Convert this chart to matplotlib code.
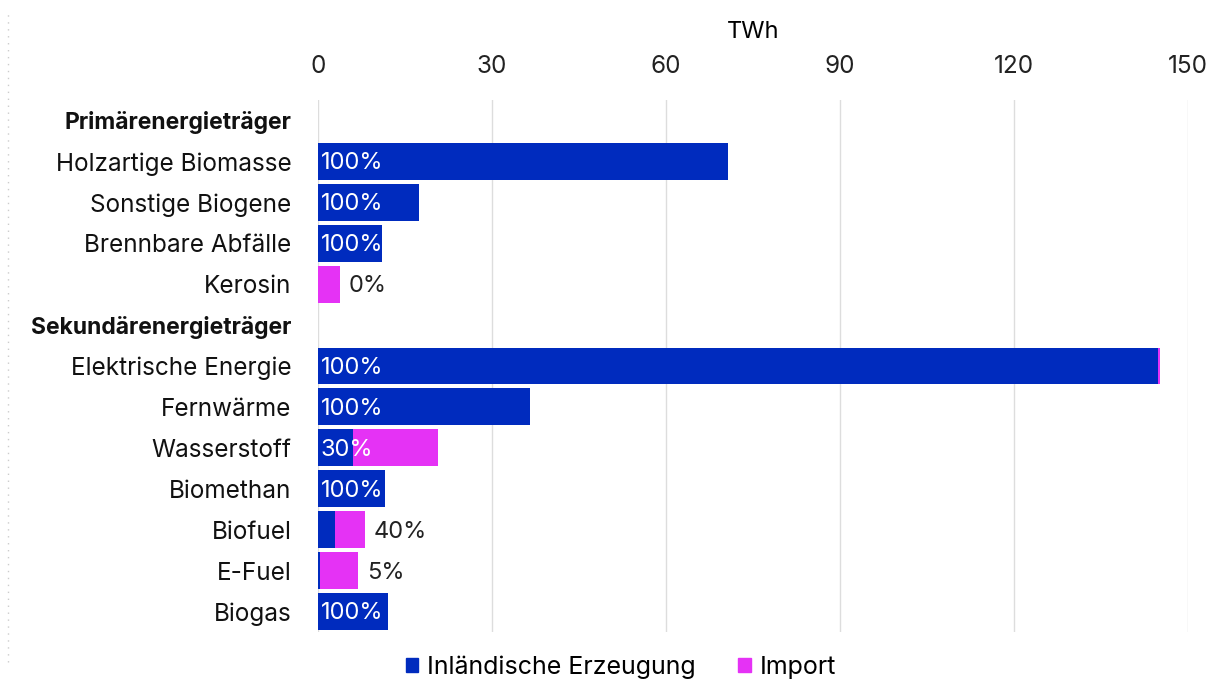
import matplotlib
matplotlib.use("Agg")
import matplotlib.pyplot as plt
from matplotlib.lines import Line2D
from matplotlib.patches import Patch
import numpy as np

plt.rcParams["font.family"] = ["Inter", "DejaVu Sans"]

# ── data (TWh) ────────────────────────────────────────────────────────────────
categories = [
    "Primärenergieträger",
    "Holzartige Biomasse",
    "Sonstige Biogene",
    "Brennbare Abfälle",
    "Kerosin",
    "Sekundärenergieträger",
    "Elektrische Energie",
    "Fernwärme",
    "Wasserstoff",
    "Biomethan",
    "Biofuel",
    "E-Fuel",
    "Biogas",
]
is_header = [True, False, False, False, False, True, False, False, False, False, False, False, False]
domestic = [0, 70.7, 17.4, 11.0, 0.0, 0, 144.8, 36.6, 6.1, 11.6, 2.9, 0.35, 12.1]
imported = [0, 0.0, 0.0, 0.0, 3.8, 0, 0.3, 0.0, 14.6, 0.0, 5.2, 6.6, 0.0]
share_labels = ["", "100%", "100%", "100%", "0%", "", "100%", "100%", "30%", "100%", "40%", "5%", "100%"]
x_ticks = [0, 30, 60, 90, 120, 150]

BLUE = "#002BBE"
MAGENTA = "#E532F5"

fig = plt.figure(figsize=(12.22, 6.82), dpi=100)
ax = fig.add_axes([0.2602, 0.0735, 0.712, 0.7799])

y = np.arange(len(categories))
dom = np.array(domestic)
imp = np.array(imported)

ax.barh(y, dom, height=0.9, color=BLUE, edgecolor="none", zorder=3)
ax.barh(y, imp, left=dom, height=0.9, color=MAGENTA, edgecolor="none", zorder=3)

# share labels: inside (white) for longer bars, outside (dark) for short ones
for yi, d, m, lab in zip(y, dom, imp, share_labels):
    if not lab:
        continue
    total = d + m
    if total > 10:
        ax.annotate(lab, (0, yi + 0.05), xytext=(2, 0), textcoords="offset points",
                    va="center", ha="left", color="white", fontsize=17, zorder=4)
    else:
        ax.annotate(lab, (total, yi + 0.05), xytext=(6, 0), textcoords="offset points",
                    va="center", ha="left", color="#222222", fontsize=17, zorder=4)

ax.set_xlim(0, 150)
ax.set_ylim(len(categories) - 0.5, -0.5)
ax.set_xticks(x_ticks)
ax.xaxis.tick_top()
ax.xaxis.set_label_position("top")
ax.set_xlabel("TWh", fontsize=17, labelpad=12)
ax.tick_params(axis="x", length=0, pad=16, labelsize=17.5, colors="#222222")
ax.set_yticks(y)
ax.set_yticklabels(categories)
ax.tick_params(axis="y", length=0, pad=19, labelsize=17.5, colors="#111111")
for lbl, hdr in zip(ax.get_yticklabels(), is_header):
    if hdr:
        lbl.set_fontweight("bold")
        lbl.set_fontsize(16.5)

ax.grid(axis="x", color="#dddddd", linewidth=1, zorder=0)
for s in ax.spines.values():
    s.set_visible(False)

handles = [Patch(color=BLUE, label="Inländische Erzeugung"),
           Patch(color=MAGENTA, label="Import")]
fig.legend(handles=handles, loc="center", bbox_to_anchor=(0.508, 0.022), ncol=2,
           frameon=False, fontsize=18, handlelength=0.5, handleheight=0.5,
           handletextpad=0.35, columnspacing=1.7)

# faint dotted guide at the far left edge
fig.add_artist(Line2D([0.0065, 0.0065], [0.03, 0.98], transform=fig.transFigure,
                      color="#cccccc", linestyle=(0, (1, 4)), linewidth=1))

fig.savefig("out.png", dpi=100)
